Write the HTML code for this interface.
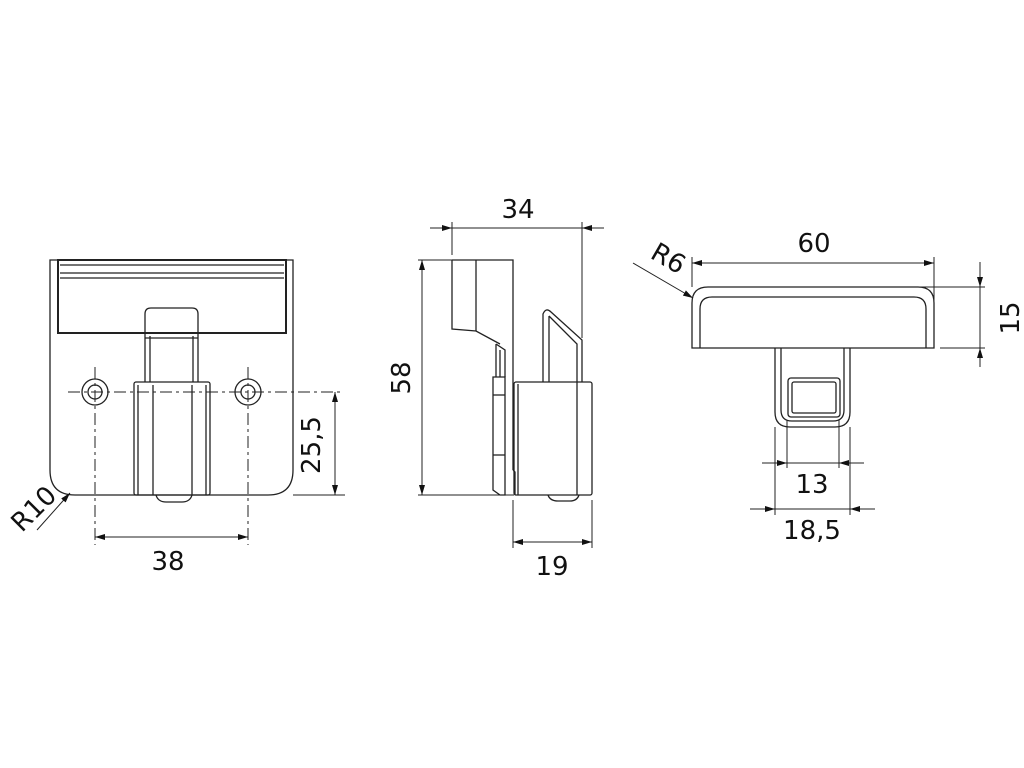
<!DOCTYPE html>
<html><head><meta charset="utf-8"><style>
html,body{margin:0;padding:0;background:#fff;width:1024px;height:768px;overflow:hidden}
svg{display:block}
text{font-family:"DejaVu Sans","Liberation Sans",sans-serif;font-size:26px;fill:#111}
</style></head><body>
<svg width="1024" height="768" viewBox="0 0 1024 768" xmlns="http://www.w3.org/2000/svg">
<defs>
<marker id="a" viewBox="0 0 10 6" refX="10" refY="3" markerWidth="10" markerHeight="6" orient="auto-start-reverse" markerUnits="userSpaceOnUse"><path d="M0,0 L10,3 L0,6 z" fill="#111"/></marker>
</defs>
<g fill="none" stroke="#222" stroke-width="1.3">
<!-- FRONT VIEW -->
<path d="M50,260 H293 V470 Q293,495 268,495 H75 Q50,495 50,470 Z"/>
<rect x="58" y="260" width="228" height="73" stroke-width="2"/>
<line x1="60" y1="265" x2="284" y2="265"/>
<line x1="60" y1="273" x2="284" y2="273"/>
<line x1="60" y1="278" x2="284" y2="278"/>
<path d="M145,382 V314 Q145,308 151,308 H192 Q198,308 198,314 V382"/>
<line x1="145" y1="338" x2="198" y2="338"/>
<line x1="150" y1="336" x2="150" y2="382"/>
<line x1="193" y1="336" x2="193" y2="382"/>
<rect x="134" y="382" width="76" height="113" rx="2"/>
<line x1="138" y1="385" x2="138" y2="495"/>
<line x1="153" y1="385" x2="153" y2="495"/>
<line x1="192" y1="385" x2="192" y2="495"/>
<line x1="206" y1="385" x2="206" y2="495"/>
<path d="M156,495 Q158,502 166,502 H182 Q190,502 192,495"/>
<circle cx="95" cy="392" r="13"/><circle cx="95" cy="392" r="7"/>
<circle cx="248" cy="392" r="13"/><circle cx="248" cy="392" r="7"/>
<g stroke-width="1" stroke-dasharray="12,4,3,4">
<line x1="68" y1="392" x2="342" y2="392"/>
<line x1="95" y1="367" x2="95" y2="545"/>
<line x1="248" y1="367" x2="248" y2="545"/>
</g>
<g stroke-width="1">
<line x1="293" y1="495" x2="345" y2="495"/>
<line x1="335" y1="392" x2="335" y2="495" marker-start="url(#a)" marker-end="url(#a)"/>
<line x1="95" y1="537" x2="248" y2="537" marker-start="url(#a)" marker-end="url(#a)"/>
<line x1="37" y1="530" x2="70" y2="493" marker-end="url(#a)"/>
</g>
<!-- SIDE VIEW -->
<path d="M452,260 H513 V470 M452,260 V329 L476,331 L500,344"/>
<line x1="476" y1="260" x2="476" y2="331"/>
<path d="M496,344 L505,350 V377 M496,344 V377"/>
<line x1="500" y1="350" x2="500" y2="377"/>
<path d="M493,377 H505 V495 H500 L493,490 Z"/>
<line x1="493" y1="395" x2="505" y2="395"/>
<line x1="493" y1="455" x2="505" y2="455"/>
<path d="M513,470 L515,472 V495"/>
<rect x="514" y="382" width="78" height="113" rx="2"/>
<line x1="518" y1="384" x2="518" y2="495"/>
<line x1="577" y1="382" x2="577" y2="495"/>
<path d="M543,382 V314 Q546,307 551,312 L582,340 V382 M549,382 V316 M549,316 L577,344 V382"/>
<path d="M548,495 Q550,501 558,501 H570 Q577,501 579,495"/>
<g stroke-width="1">
<line x1="430" y1="228" x2="452" y2="228" marker-end="url(#a)"/>
<line x1="452" y1="228" x2="582" y2="228"/>
<line x1="604" y1="228" x2="582" y2="228" marker-end="url(#a)"/>
<line x1="452" y1="222" x2="452" y2="255"/>
<line x1="582" y1="222" x2="582" y2="338"/>
<line x1="418" y1="260" x2="452" y2="260"/>
<line x1="418" y1="495" x2="514" y2="495"/>
<line x1="422" y1="260" x2="422" y2="495" marker-start="url(#a)" marker-end="url(#a)"/>
<line x1="513" y1="500" x2="513" y2="548"/>
<line x1="592" y1="500" x2="592" y2="548"/>
<line x1="513" y1="542" x2="592" y2="542" marker-start="url(#a)" marker-end="url(#a)"/>
</g>
<!-- TOP VIEW -->
<path d="M692,348 V303 Q692,287 708,287 H918 Q934,287 934,303 V348 Z"/>
<path d="M700,348 V309 Q700,297 712,297 H914 Q926,297 926,309 V348"/>
<path d="M775,348 V412 Q775,427 790,427 H835 Q850,427 850,412 V348"/>
<path d="M781,348 V410 Q781,421 792,421 H833 Q844,421 844,410 V348"/>
<rect x="788" y="378" width="52" height="39" rx="3"/>
<rect x="792" y="382" width="44" height="31" rx="2"/>
<g stroke-width="1">
<line x1="692" y1="263" x2="934" y2="263" marker-start="url(#a)" marker-end="url(#a)"/>
<line x1="692" y1="257" x2="692" y2="287"/>
<line x1="934" y1="257" x2="934" y2="348"/>
<line x1="633" y1="263" x2="693" y2="298" marker-end="url(#a)"/>
<line x1="920" y1="287" x2="985" y2="287"/>
<line x1="940" y1="348" x2="985" y2="348"/>
<line x1="980" y1="262" x2="980" y2="287" marker-end="url(#a)"/>
<line x1="980" y1="287" x2="980" y2="348"/>
<line x1="980" y1="367" x2="980" y2="348" marker-end="url(#a)"/>
<line x1="775" y1="427" x2="775" y2="515"/>
<line x1="850" y1="427" x2="850" y2="515"/>
<line x1="787" y1="420" x2="787" y2="468"/>
<line x1="839" y1="420" x2="839" y2="468"/>
<line x1="762" y1="463" x2="787" y2="463" marker-end="url(#a)"/>
<line x1="787" y1="463" x2="839" y2="463"/>
<line x1="864" y1="463" x2="839" y2="463" marker-end="url(#a)"/>
<line x1="750" y1="509" x2="775" y2="509" marker-end="url(#a)"/>
<line x1="775" y1="509" x2="850" y2="509"/>
<line x1="875" y1="509" x2="850" y2="509" marker-end="url(#a)"/>
</g>
</g>
<text x="168" y="570" text-anchor="middle">38</text>
<text transform="translate(320,445) rotate(-90)" text-anchor="middle">25,5</text>
<text transform="translate(40,515) rotate(-45)" text-anchor="middle">R10</text>
<text x="518" y="218" text-anchor="middle">34</text>
<text transform="translate(410,378) rotate(-90)" text-anchor="middle">58</text>
<text x="552" y="575" text-anchor="middle">19</text>
<text x="814" y="252" text-anchor="middle">60</text>
<text transform="translate(664,266) rotate(30)" text-anchor="middle">R6</text>
<text transform="translate(1019,318) rotate(-90)" text-anchor="middle">15</text>
<text x="812" y="493" text-anchor="middle">13</text>
<text x="812" y="539" text-anchor="middle">18,5</text>
</svg>
</body></html>
